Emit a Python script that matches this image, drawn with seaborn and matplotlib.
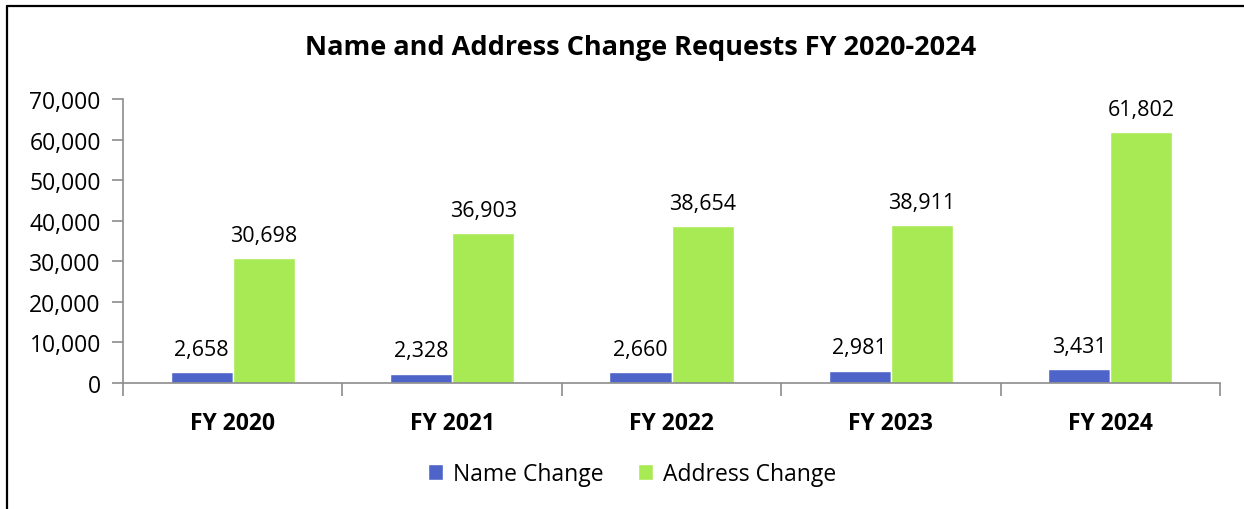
import numpy as np
import pandas as pd
import matplotlib
matplotlib.use("Agg")
import matplotlib.pyplot as plt
from matplotlib.lines import Line2D
from matplotlib.ticker import FuncFormatter
import seaborn as sns

# chart data
years = ["FY 2020", "FY 2021", "FY 2022", "FY 2023", "FY 2024"]
name_change = [2658, 2328, 2660, 2981, 3431]
address_change = [30698, 36903, 38654, 38911, 61802]
series_names = ["Name Change", "Address Change"]

# long format for seaborn
df = pd.DataFrame({
    "year": years * 2,
    "count": name_change + address_change,
    "series": [series_names[0]] * len(years) + [series_names[1]] * len(years),
})

sns.set_style("white")
plt.rcParams['font.family'] = ['Open Sans', 'DejaVu Sans']
plt.rcParams['text.color'] = 'black'
plt.rcParams['xtick.color'] = 'black'
plt.rcParams['ytick.color'] = 'black'

fig = plt.figure(figsize=(12.44, 5.10), dpi=100)
ax = fig.add_axes([0.0989, 0.247, 0.8818, 0.557])

palette = {"Name Change": "#4E64C8", "Address Change": "#A8EA53"}
sns.barplot(data=df, x="year", y="count", hue="series", order=years,
            hue_order=series_names, palette=palette, width=0.566,
            saturation=1, ax=ax, legend=True)

# value labels above bars
for cont in ax.containers:
    ax.bar_label(cont, labels=[f"{v:,.0f}" for v in cont.datavalues],
                 padding=9, fontsize=15.5, color="black")

ax.set_xlim(-0.5, len(years) - 0.5)
ax.set_ylim(0, 70000)
ax.set_yticks(np.arange(0, 70001, 10000))
ax.yaxis.set_major_formatter(FuncFormatter(lambda v, p: f"{v:,.0f}"))
ax.tick_params(axis="y", labelsize=16.5, length=8, width=1.2,
               color="#8C8C8C", labelcolor="black", left=True, pad=8)

# category boundaries as ticks, labels at centres
ax.set_xticks(np.arange(-0.5, len(years), 1))
ax.set_xticklabels([])
ax.set_xticks(np.arange(len(years)), minor=True)
ax.set_xticklabels(years, minor=True, fontsize=16.5, fontweight="bold",
                   color="black")
ax.tick_params(axis="x", which="major", length=9, width=1.2,
               color="#8C8C8C", bottom=True)
ax.tick_params(axis="x", which="minor", length=0, pad=20)

ax.set_xlabel("")
ax.set_ylabel("")
for s in ["top", "right"]:
    ax.spines[s].set_visible(False)
for s in ["left", "bottom"]:
    ax.spines[s].set_color("#8C8C8C")
    ax.spines[s].set_linewidth(1.2)

W, H = 1244, 510
fig.text(641 / W, 1 - 48 / H, "Name and Address Change Requests FY 2020-2024",
         fontsize=19.5, fontweight="bold", ha="center", va="center",
         color="black")

handles, labels = ax.get_legend_handles_labels()
ax.legend(handles, labels, loc="center", bbox_to_anchor=(632 / W, 1 - 475 / H),
          bbox_transform=fig.transFigure, ncol=2, frameon=False,
          fontsize=16.5, handlelength=0.65, handleheight=0.65,
          handletextpad=0.45, columnspacing=1.5)

# outer frame lines (left and top)
fig.add_artist(Line2D([7 / W, 7 / W], [0, 1 - 7 / H], color="black",
                      linewidth=1.6, transform=fig.transFigure))
fig.add_artist(Line2D([7 / W, 1], [1 - 7 / H, 1 - 7 / H], color="black",
                      linewidth=1.6, transform=fig.transFigure))

fig.savefig("out.png", dpi=100)
